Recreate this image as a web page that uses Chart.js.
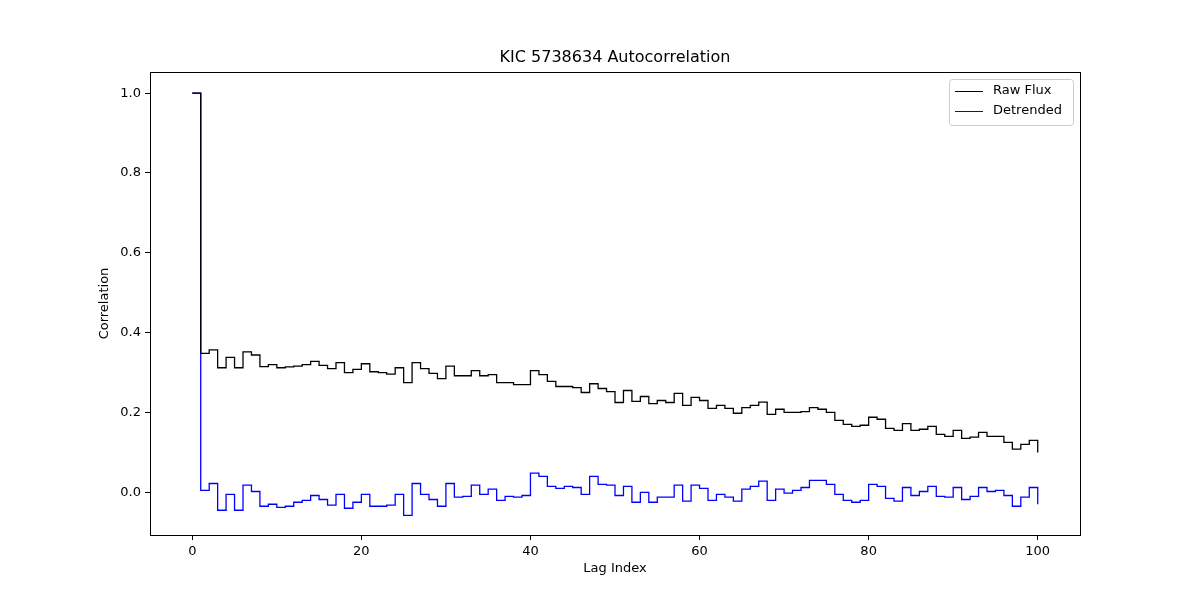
<!DOCTYPE html>
<html>
<head>
<meta charset="utf-8">
<script src="https://cdn.jsdelivr.net/npm/chart.js@4"></script>
<style>
  body { margin: 0; background: #fff; }
  #wrap { width: 1200px; height: 600px; }
</style>
</head>
<body>
<div id="wrap"><canvas id="myChart"></canvas></div>
<script>
// lag values 0..100
const rawFlux = [1.0, 0.348, 0.357, 0.312, 0.338, 0.312, 0.352, 0.344, 0.315, 0.320,
  0.312, 0.314, 0.316, 0.320, 0.328, 0.318, 0.310, 0.325, 0.300, 0.308,
  0.322, 0.302, 0.300, 0.296, 0.312, 0.275, 0.325, 0.310, 0.298, 0.285,
  0.316, 0.292, 0.292, 0.305, 0.292, 0.295, 0.275, 0.275, 0.270, 0.270,
  0.305, 0.295, 0.278, 0.265, 0.265, 0.262, 0.250, 0.272, 0.260, 0.252,
  0.225, 0.255, 0.228, 0.240, 0.222, 0.230, 0.225, 0.248, 0.218, 0.238,
  0.230, 0.210, 0.218, 0.210, 0.198, 0.212, 0.218, 0.226, 0.195, 0.208,
  0.200, 0.200, 0.202, 0.212, 0.208, 0.200, 0.180, 0.170, 0.165, 0.168,
  0.188, 0.183, 0.160, 0.155, 0.172, 0.155, 0.158, 0.165, 0.145, 0.140,
  0.155, 0.135, 0.138, 0.150, 0.140, 0.140, 0.125, 0.108, 0.120, 0.130, 0.100];
const detrended = [1.0, 0.005, 0.022, -0.045, -0.005, -0.045, 0.018, 0.002, -0.035, -0.030,
  -0.038, -0.035, -0.025, -0.020, -0.008, -0.018, -0.032, -0.005, -0.040, -0.025,
  -0.005, -0.035, -0.035, -0.032, -0.005, -0.058, 0.022, -0.005, -0.018, -0.035,
  0.022, -0.012, -0.010, 0.018, -0.005, 0.008, -0.020, -0.010, -0.012, -0.008,
  0.048, 0.040, 0.015, 0.010, 0.015, 0.012, -0.005, 0.040, 0.020, 0.018,
  -0.008, 0.015, -0.025, 0.000, -0.025, -0.012, -0.012, 0.018, -0.022, 0.018,
  0.010, -0.020, -0.005, -0.012, -0.022, 0.008, 0.015, 0.028, -0.020, 0.008,
  -0.002, 0.005, 0.012, 0.030, 0.030, 0.020, -0.005, -0.020, -0.025, -0.020,
  0.020, 0.015, -0.015, -0.022, 0.012, -0.008, 0.002, 0.015, -0.010, -0.012,
  0.012, -0.018, -0.010, 0.012, 0.002, 0.005, -0.008, -0.035, -0.012, 0.012, -0.030];
const lags = rawFlux.map((_, i) => i);

const FONT = 'DejaVu Sans';
Chart.defaults.font.family = FONT;
Chart.defaults.color = '#000';

const frame = {
  id: 'frame',
  afterDraw(chart) {
    const { ctx, chartArea: a } = chart;
    ctx.save();
    ctx.strokeStyle = '#000';
    ctx.lineWidth = 1;
    ctx.strokeRect(a.left + 0.5, a.top + 0.5, a.width, a.height);
    ctx.fillStyle = '#000';
    ctx.textAlign = 'center';
    ctx.textBaseline = 'middle';
    ctx.font = '16px ' + FONT;
    ctx.fillText('KIC 5738634 Autocorrelation', (a.left + a.right) / 2, 58);
    ctx.font = '13px ' + FONT;
    ctx.fillText('Lag Index', (a.left + a.right) / 2, 569);
    ctx.save();
    ctx.translate(105, (a.top + a.bottom) / 2);
    ctx.rotate(-Math.PI / 2);
    ctx.fillText('Correlation', 0, 0);
    ctx.restore();
    // legend
    const lx = 949, ly = 79, lw = 124, lh = 46;
    ctx.fillStyle = 'rgba(255,255,255,0.8)';
    ctx.strokeStyle = '#ccc';
    ctx.beginPath();
    ctx.roundRect(lx + 0.5, ly + 0.5, lw, lh, 3);
    ctx.fill();
    ctx.stroke();
    ctx.textAlign = 'left';
    chart.data.datasets.forEach((ds, i) => {
      const y = ly + 12 + i * 20;
      ctx.strokeStyle = ds.borderColor;
      ctx.beginPath();
      ctx.moveTo(lx + 6, y + 0.5);
      ctx.lineTo(lx + 34, y + 0.5);
      ctx.stroke();
      ctx.fillStyle = '#000';
      ctx.fillText(ds.label, lx + 44, y);
    });
    ctx.restore();
  }
};

new Chart(document.getElementById('myChart'), {
  type: 'line',
  data: {
    datasets: [
      { label: 'Raw Flux', data: lags.map(i => ({ x: i, y: rawFlux[i] })), borderColor: '#000' },
      { label: 'Detrended', data: lags.map(i => ({ x: i, y: detrended[i] })), borderColor: '#0000ff' }
    ]
  },
  options: {
    responsive: true,
    maintainAspectRatio: false,
    animation: false,
    elements: { line: { stepped: true, borderWidth: 1.3 }, point: { radius: 0 } },
    layout: { padding: { top: 72, right: 120, bottom: 0, left: 0 } },
    plugins: { legend: { display: false }, title: { display: false }, tooltip: { enabled: false } },
    scales: {
      x: {
        type: 'linear', min: -5, max: 105,
        afterFit: s => { s.height = 65; },
        afterBuildTicks: s => { s.ticks = [0, 20, 40, 60, 80, 100].map(v => ({ value: v })); },
        grid: { drawOnChartArea: false, tickLength: 5, color: '#000' },
        border: { display: false },
        ticks: { font: { size: 13 }, padding: 4 }
      },
      y: {
        min: -0.107, max: 1.053,
        afterFit: s => { s.width = 150; },
        afterBuildTicks: s => { s.ticks = [0, 0.2, 0.4, 0.6, 0.8, 1.0].map(v => ({ value: v })); },
        grid: { drawOnChartArea: false, tickLength: 5, color: '#000' },
        border: { display: false },
        ticks: { font: { size: 13 }, padding: 4, callback: v => v.toFixed(1) }
      }
    }
  },
  plugins: [frame]
});
</script>
</body>
</html>
